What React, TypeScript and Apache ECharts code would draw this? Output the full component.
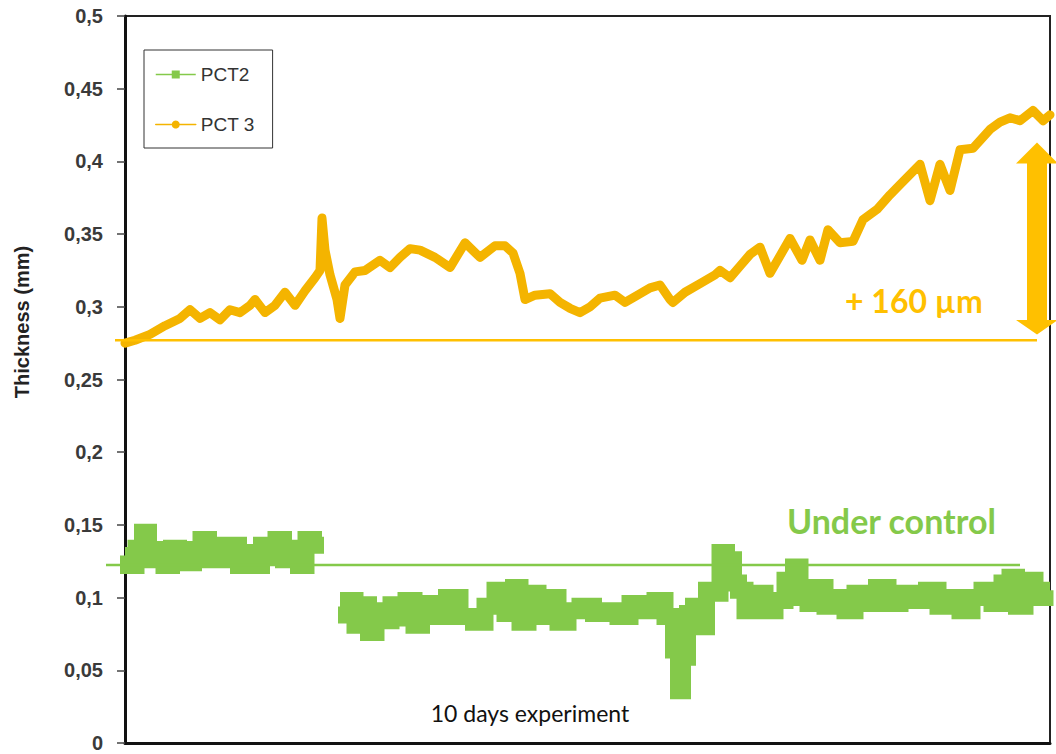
import React, { useEffect, useRef } from "react";
import * as echarts from "echarts";

// x: sample index along the 10-day experiment (0..925), y: thickness in mm
const pct3Samples = [0,10,25,40,55,65,75,85,95,105,115,125,130,140,150,160,170,180,190,195,197,200,205,212,215,220,230,240,255,265,275,285,295,310,325,340,355,370,380,388,395,400,410,425,435,445,455,465,475,490,500,510,525,535,545,548,560,575,590,595,605,615,625,635,645,665,677,685,695,703,715,728,738,752,765,775,795,805,815,825,835,848,865,875,885,895,908,918,925];
const pct3Values = [0.275,0.277,0.281,0.287,0.292,0.298,0.292,0.296,0.291,0.298,0.296,0.301,0.305,0.296,0.301,0.310,0.301,0.311,0.320,0.325,0.361,0.339,0.322,0.305,0.292,0.315,0.324,0.325,0.332,0.327,0.334,0.340,0.339,0.334,0.327,0.344,0.334,0.342,0.342,0.337,0.323,0.305,0.308,0.309,0.303,0.299,0.296,0.300,0.306,0.308,0.303,0.307,0.313,0.315,0.305,0.303,0.310,0.316,0.322,0.325,0.320,0.328,0.336,0.341,0.323,0.347,0.332,0.346,0.332,0.353,0.344,0.345,0.360,0.367,0.377,0.384,0.398,0.373,0.398,0.380,0.408,0.409,0.422,0.427,0.430,0.428,0.435,0.428,0.432];

const pct2SamplesA = [0,7,15,20,27,35,43,50,57,65,72,80,87,95,103,110,117,125,133,140,147,155,162,170,177,185,192];
const pct2ValuesA = [0.129,0.122,0.134,0.145,0.126,0.133,0.122,0.134,0.129,0.124,0.133,0.140,0.126,0.136,0.126,0.136,0.122,0.131,0.122,0.136,0.129,0.140,0.126,0.134,0.122,0.140,0.136];
const pct2SamplesB = [220,227,233,240,247,255,262,270,277,285,293,300,315,328,342,355,365,375,385,392,398,408,418,428,438,448,462,475,488,498,512,525,535,545,552,555,560,565,572,578,585,592,598,605,612,615,625,635,645,655,665,672,678,688,695,705,715,725,735,745,758,768,782,795,808,818,828,842,852,862,872,882,888,895,905,915,925];
const pct2ValuesB = [0.088,0.098,0.081,0.095,0.076,0.091,0.084,0.095,0.086,0.098,0.081,0.096,0.087,0.100,0.087,0.083,0.094,0.105,0.089,0.107,0.083,0.103,0.087,0.100,0.083,0.091,0.094,0.089,0.091,0.087,0.096,0.091,0.098,0.087,0.064,0.036,0.059,0.089,0.094,0.080,0.105,0.103,0.131,0.126,0.110,0.105,0.091,0.103,0.091,0.098,0.112,0.121,0.100,0.096,0.107,0.094,0.100,0.091,0.103,0.096,0.107,0.096,0.103,0.098,0.105,0.094,0.100,0.091,0.100,0.105,0.096,0.110,0.114,0.094,0.112,0.100,0.105];

const yTicks = [0, 0.05, 0.1, 0.15, 0.2, 0.25, 0.3, 0.35, 0.4, 0.45, 0.5];
const seriesNames = ["PCT2", "PCT 3"];
const pct3Baseline = 0.277;
const controlLevel = 0.1224;
const arrowTop = 0.413;
const arrowBottom = 0.281;
const arrowHeadTop = 0.3985;
const arrowHeadBottom = 0.291;

const GREEN = "#84C94A";
const YELLOW = "#F4B400";
const GOLD = "#FFC000";

export default function App() {
  const ref = useRef<HTMLDivElement>(null);
  useEffect(() => {
    if (!ref.current) return;
    const chart = echarts.init(ref.current, undefined, { renderer: "svg" });
    const pct3Data = pct3Samples.map((s, i) => [s, pct3Values[i]]);
    const pct2Data: any[] = pct2SamplesA.map((s, i) => [s, pct2ValuesA[i]]);
    pct2Data.push([206, null]);
    pct2SamplesB.forEach((s, i) => pct2Data.push([s, pct2ValuesB[i]]));

    chart.setOption({
      animation: false,
      grid: { left: 125, right: 6, top: 16, bottom: 11, show: true, borderColor: "#222", borderWidth: 2, backgroundColor: "transparent" },
      xAxis: {
        type: "value", min: 0, max: 925,
        axisLine: { show: true, onZero: false, lineStyle: { color: "#111", width: 3 } },
        axisTick: { show: false }, axisLabel: { show: false }, splitLine: { show: false },
      },
      yAxis: {
        type: "value", min: 0, max: 0.5, interval: 0.05,
        axisLine: { show: true, lineStyle: { color: "#111", width: 3 } },
        axisTick: { show: true, length: 8, lineStyle: { color: "#444", width: 1.5 } },
        splitLine: { show: false },
        axisLabel: {
          margin: 22, fontFamily: "Liberation Sans", fontWeight: "bold", fontSize: 20, color: "#3a3a3a",
          formatter: (v: number) => {
            const t = yTicks.find((k) => Math.abs(k - v) < 1e-9);
            return String(t !== undefined ? t : v).replace(".", ",");
          },
        },
      },
      legend: {
        orient: "vertical", left: 144, top: 50,
        padding: [15, 18, 14, 11], itemGap: 31, itemWidth: 40, itemHeight: 10,
        borderColor: "#333", borderWidth: 1,
        textStyle: { fontFamily: "Liberation Sans", fontSize: 19, color: "#333" },
        lineStyle: { width: 1.5 },
        data: seriesNames,
      },
      series: [
        {
          name: seriesNames[0], type: "line", data: pct2Data, symbol: "rect", symbolSize: 9, showSymbol: false,
          connectNulls: false, color: GREEN, step: "middle",
          lineStyle: { color: GREEN, width: 17, join: "miter" },
        },
        {
          name: seriesNames[1], type: "line", data: pct3Data, symbol: "circle", symbolSize: 8, showSymbol: false,
          color: YELLOW, lineStyle: { color: YELLOW, width: 9, join: "round", cap: "round" },
        },
      ],
    });

    const py = (v: number) => chart.convertToPixel({ yAxisIndex: 0 }, v) as number;
    const yBase = py(pct3Baseline);
    const yCtl = py(controlLevel);
    const yTip = py(arrowTop);
    const yBot = py(arrowBottom);
    const yHT = py(arrowHeadTop);
    const yHB = py(arrowHeadBottom);
    const cx = 1037;
    chart.setOption({
      graphic: [
        { type: "line", shape: { x1: 115, y1: yBase, x2: 1037, y2: yBase }, style: { stroke: GOLD, lineWidth: 2.5 }, z: 100 },
        { type: "line", shape: { x1: 106, y1: yCtl, x2: 1020, y2: yCtl }, style: { stroke: GREEN, lineWidth: 2.5 }, z: 100 },
        {
          type: "polygon", z: 100,
          shape: {
            points: [
              [cx, yTip], [cx + 21, yHT], [cx + 10, yHT], [cx + 10, yHB], [cx + 21, yHB],
              [cx, yBot], [cx - 21, yHB], [cx - 10, yHB], [cx - 10, yHT], [cx - 21, yHT],
            ],
          },
          style: { fill: GOLD },
        },
        { type: "text", x: 845, y: 300, z: 100, style: { text: "+ 160 µm", fill: GOLD, font: "bold 32px Lato", textVerticalAlign: "middle" } },
        { type: "text", x: 787, y: 520, z: 100, style: { text: "Under control", fill: GREEN, font: "bold 34px Lato", textVerticalAlign: "middle" } },
        { type: "text", x: 530, y: 713, z: 100, style: { text: "10 days experiment", fill: "#111", font: "23px Lato", textAlign: "center", textVerticalAlign: "middle" } },
        { type: "text", x: 22, y: 322, rotation: Math.PI / 2, z: 100, style: { text: "Thickness (mm)", fill: "#222", font: "bold 20px 'Liberation Sans'", textAlign: "center", textVerticalAlign: "middle" } },
      ],
    });
    return () => chart.dispose();
  }, []);
  return <div ref={ref} style={{ position: "absolute", left: 0, top: 0, width: 1056, height: 754 }} />;
}
